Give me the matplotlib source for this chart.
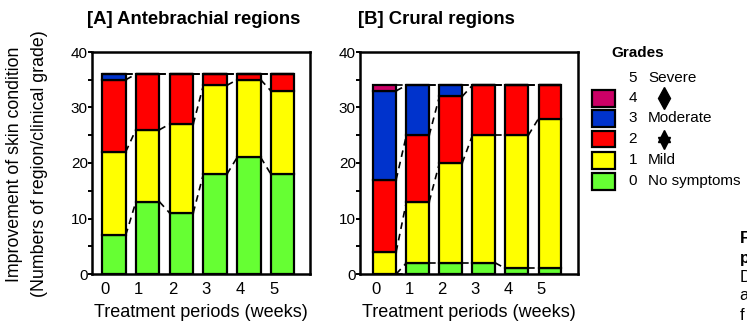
import numpy as np
import matplotlib
matplotlib.use("Agg")
import matplotlib.pyplot as plt
from matplotlib.patches import Rectangle
from matplotlib.lines import Line2D

plt.rcParams["font.family"] = ["Liberation Sans", "DejaVu Sans"]

# -- data: number of regions per clinical grade (0..4) at each week
weeks = [0, 1, 2, 3, 4, 5]
grades = [0, 1, 2, 3, 4]
ante = np.array([[7, 15, 13, 1, 0],
                 [13, 13, 10, 0, 0],
                 [11, 16, 9, 0, 0],
                 [18, 16, 2, 0, 0],
                 [21, 14, 1, 0, 0],
                 [18, 15, 3, 0, 0]])
crur = np.array([[0, 4, 13, 16, 1],
                 [2, 11, 12, 9, 0],
                 [2, 18, 12, 2, 0],
                 [2, 23, 9, 0, 0],
                 [1, 24, 9, 0, 0],
                 [1, 27, 6, 0, 0]])
grade_colors = ["#66ff33", "#ffff00", "#ff0000", "#0033cc", "#cc0066"]
grade_names = ["No symptoms", "Mild", "", "Moderate", "", "Severe"]
titles = ["[A] Antebrachial regions", "[B] Crural regions"]
xlab = "Treatment periods (weeks)"

W, H = 747, 323
fig = plt.figure(figsize=(W / 100.0, H / 100.0), dpi=100)


def px(x, y):
    return x / float(W), 1 - y / float(H)


def draw_panel(rect, data, xlim, bw):
    ax = fig.add_axes(rect)
    x = np.array(weeks, dtype=float)
    cum = np.cumsum(data, axis=1)
    bot = np.zeros(len(weeks))
    for k in grades:
        ax.bar(x, data[:, k], bw, bottom=bot, color=grade_colors[k],
               edgecolor="k", linewidth=1.6, zorder=3)
        bot = bot + data[:, k]
    # -- dashed connectors between segment boundaries
    for i in range(len(weeks) - 1):
        levels = [0] + list(cum[i]) if data[i, 0] == 0 else list(cum[i])
        nlev = [0] + list(cum[i + 1]) if data[i, 0] == 0 else list(cum[i + 1])
        for a, b in zip(levels, nlev):
            ax.plot([x[i] + bw / 2, x[i + 1] - bw / 2], [a, b], color="k",
                    lw=1.2, ls=(0, (4, 3)), zorder=2)
    ax.set_xlim(*xlim)
    ax.set_ylim(0, 40)
    ax.set_yticks([0, 10, 20, 30, 40])
    ax.set_yticks([5, 15, 25, 35], minor=True)
    ax.set_xticks(x - 0.27)
    ax.set_xticklabels([str(w) for w in weeks])
    ax.tick_params(axis="x", length=0, labelsize=12, pad=6)
    ax.tick_params(axis="y", which="both", direction="out", length=3,
                   width=1.4, labelsize=11, pad=0)
    for s in ax.spines.values():
        s.set_linewidth(1.8)
    ax.set_xlabel(xlab, fontsize=13, labelpad=5)
    return ax


bb, tt = 1 - 274 / float(H), 1 - 52 / float(H)
axA = draw_panel([92 / float(W), bb, 218 / float(W), tt - bb], ante,
                 (-0.65, 5.81), 0.70)
axB = draw_panel([360 / float(W), bb, 218 / float(W), tt - bb], crur,
                 (-0.75, 5.85), 0.69)

fig.text(*px(87, 20), titles[0], fontsize=13.3, fontweight="bold",
         ha="left", va="center")
fig.text(*px(358, 20), titles[1], fontsize=13.3, fontweight="bold",
         ha="left", va="center")

fig.text(*px(15, 164), "Improvement of skin condition", rotation=90,
         fontsize=12.8, ha="center", va="center")
fig.text(*px(40, 164), "(Numbers of region/clinical grade)", rotation=90,
         fontsize=12.8, ha="center", va="center")

# -- legend
fig.text(*px(611, 53), "Grades", fontsize=11, fontweight="bold",
         ha="left", va="center")
row_y = [181, 160, 139, 118, 98, 78]
for g in range(6):
    fig.text(*px(637, row_y[g]), str(g), fontsize=11, ha="right",
             va="center")
    if grade_names[g]:
        fig.text(*px(648, row_y[g]), grade_names[g], fontsize=11,
                 ha="left", va="center")
for g in grades:
    x0, y0 = px(592, row_y[g] + 8.5)
    fig.add_artist(Rectangle((x0, y0), 23 / float(W), 17 / float(H),
                             transform=fig.transFigure,
                             facecolor=grade_colors[g], edgecolor="k",
                             linewidth=1.6))
fig.add_artist(Line2D([px(664, 98)[0]], [px(664, 98)[1]], marker="d",
                      markersize=11, color="k", transform=fig.transFigure))
fig.add_artist(Line2D([px(664, 136)[0]], [px(664, 136)[1]], marker="^",
                      markersize=8, color="k", transform=fig.transFigure))
fig.add_artist(Line2D([px(664, 143)[0]], [px(664, 143)[1]], marker="v",
                      markersize=8, color="k", transform=fig.transFigure))

# -- caption, cut off at the right edge as in the source
fig.text(*px(740, 238), "Figure 3. Improvement", fontsize=12,
         fontweight="bold", ha="left", va="center")
fig.text(*px(740, 258), "periods", fontsize=12, fontweight="bold",
         ha="left", va="center")
fig.text(*px(740, 277), "Distribution of the", fontsize=12,
         ha="left", va="center")
fig.text(*px(740, 296), "antebrachial and", fontsize=12,
         ha="left", va="center")
fig.text(*px(740, 316), "f", fontsize=12,
         ha="left", va="center")

fig.savefig("out.png", dpi=100)
